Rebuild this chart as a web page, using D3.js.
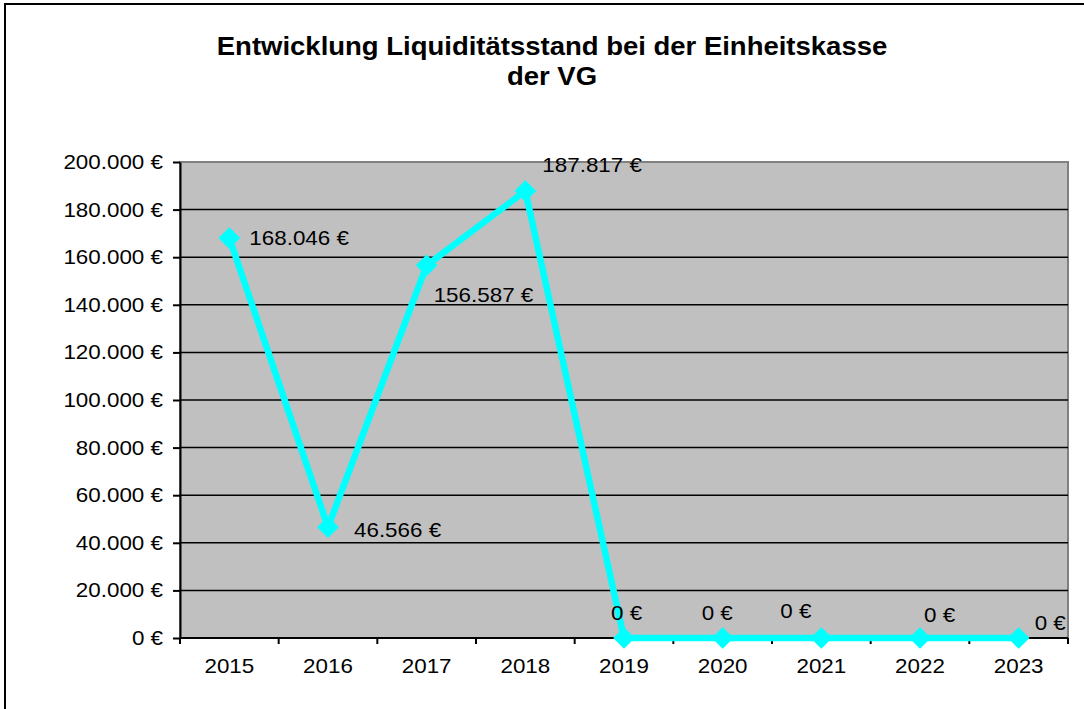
<!DOCTYPE html>
<html>
<head>
<meta charset="utf-8">
<script src="https://cdn.jsdelivr.net/npm/d3@7"></script>
<style>
  html, body { margin: 0; padding: 0; background: #fff; }
  svg { display: block; font-family: "Liberation Sans", Arial, sans-serif; }
</style>
</head>
<body>
<svg id="drawing_region"></svg>
<script>
// data
const years = ["2015", "2016", "2017", "2018", "2019", "2020", "2021", "2022", "2023"];
const balance = [168046, 46566, 156587, 187817, 0, 0, 0, 0, 0];
const yTicks = [0, 20000, 40000, 60000, 80000, 100000, 120000, 140000, 160000, 180000, 200000];

// where each data label sits relative to its point (dx, dy)
const labelOffsets = [[20, 0], [26, 3], [7, 30], [17, -26], [-13, -25], [-21, -25], [-41, -27], [4, -23], [16, -15]];

const config = {
    width: 1084,
    height: 709,
    margin: {top: 162, right: 16, bottom: 71, left: 180}
};

// the original text is slightly wider than plain Arial
const SX = 1.12;

const svg = d3.select('#drawing_region')
    .attr('width', config.width)
    .attr('height', config.height);

const inner_width = config.width - config.margin.left - config.margin.right;
const inner_height = config.height - config.margin.top - config.margin.bottom;

// outer frame
svg.append('rect')
    .attr('x', 5).attr('y', 4)
    .attr('width', config.width + 10).attr('height', config.height + 10)
    .attr('fill', 'none')
    .attr('stroke', 'black')
    .attr('stroke-width', 2);

// title
const titleLines = ['Entwicklung Liquiditätsstand bei der Einheitskasse', 'der VG'];
svg.selectAll('.title')
    .data(titleLines)
    .join('text')
    .attr('class', 'title')
    .attr('transform', (d, i) => `translate(552, ${55 + i * 30}) scale(1.1, 1)`)
    .attr('text-anchor', 'middle')
    .attr('font-size', '25px')
    .attr('font-weight', 'bold')
    .attr('fill', 'black')
    .text(d => d);

const chart = svg.append('g')
    .attr('transform', `translate(${config.margin.left}, ${config.margin.top})`);

const xscale = d3.scaleBand()
    .domain(years)
    .range([0, inner_width]);

const yscale = d3.scaleLinear()
    .domain([0, 200000])
    .range([inner_height, 0]);

const fmt = v => d3.format(',')(v).replace(/,/g, '.') + ' €';

// plot area
chart.append('rect')
    .attr('x', 0).attr('y', 0)
    .attr('width', inner_width).attr('height', inner_height)
    .attr('fill', '#c0c0c0')
    .attr('stroke', '#808080')
    .attr('stroke-width', 2);

// grid lines
chart.append('g')
    .selectAll('line')
    .data(yTicks.filter(t => t > 0 && t < 200000))
    .join('line')
    .attr('x1', 0).attr('x2', inner_width)
    .attr('y1', d => yscale(d)).attr('y2', d => yscale(d))
    .attr('stroke', 'black')
    .attr('stroke-width', 1.5);

// y axis
const yaxis = d3.axisLeft(yscale)
    .tickValues(yTicks)
    .tickFormat(fmt)
    .tickSize(7)
    .tickPadding(10)
    .tickSizeOuter(0);

const yaxis_group = chart.append('g').call(yaxis);

yaxis_group.select('.domain').attr('stroke', 'black').attr('stroke-width', 2);
yaxis_group.selectAll('.tick line').attr('stroke', 'black').attr('stroke-width', 2);
yaxis_group.selectAll('.tick text')
    .attr('x', 0)
    .attr('transform', `translate(-17, 0) scale(${SX}, 1)`)
    .attr('font-size', '20px')
    .attr('font-family', '"Liberation Sans", Arial, sans-serif')
    .attr('fill', 'black');

// x axis with ticks at category boundaries
const xaxis_group = chart.append('g')
    .attr('transform', `translate(0, ${inner_height})`);

xaxis_group.append('line')
    .attr('x1', 0).attr('x2', inner_width)
    .attr('stroke', 'black').attr('stroke-width', 2);

xaxis_group.selectAll('.xtick')
    .data(years.concat(['end']))
    .join('line')
    .attr('class', 'xtick')
    .attr('x1', (d, i) => i * xscale.step())
    .attr('x2', (d, i) => i * xscale.step())
    .attr('y1', 0).attr('y2', 6)
    .attr('stroke', 'black').attr('stroke-width', 2);

xaxis_group.selectAll('.xlabel')
    .data(years)
    .join('text')
    .attr('class', 'xlabel')
    .attr('transform', d => `translate(${xscale(d) + xscale.bandwidth() / 2}, 35) scale(${SX}, 1)`)
    .attr('text-anchor', 'middle')
    .attr('font-size', '20px')
    .attr('fill', 'black')
    .text(d => d);

// series
const points = years.map((y, i) => ({year: y, value: balance[i], off: labelOffsets[i]}));
const cx = d => xscale(d.year) + xscale.bandwidth() / 2;

const line = d3.line()
    .x(cx)
    .y(d => yscale(d.value));

chart.append('path')
    .datum(points)
    .attr('d', line)
    .attr('fill', 'none')
    .attr('stroke', '#00ffff')
    .attr('stroke-width', 6.5)
    .attr('stroke-linejoin', 'miter');

chart.selectAll('.marker')
    .data(points)
    .join('path')
    .attr('class', 'marker')
    .attr('transform', d => `translate(${cx(d)}, ${yscale(d.value)})`)
    .attr('d', d3.symbol(d3.symbolDiamond2, 300))
    .attr('fill', '#00ffff');

chart.selectAll('.dlabel')
    .data(points)
    .join('text')
    .attr('class', 'dlabel')
    .attr('transform', d => `translate(${cx(d) + d.off[0]}, ${yscale(d.value) + d.off[1]}) scale(${SX}, 1)`)
    .attr('dy', '0.35em')
    .attr('font-size', '20px')
    .attr('fill', 'black')
    .text(d => fmt(d.value));
</script>
</body>
</html>
